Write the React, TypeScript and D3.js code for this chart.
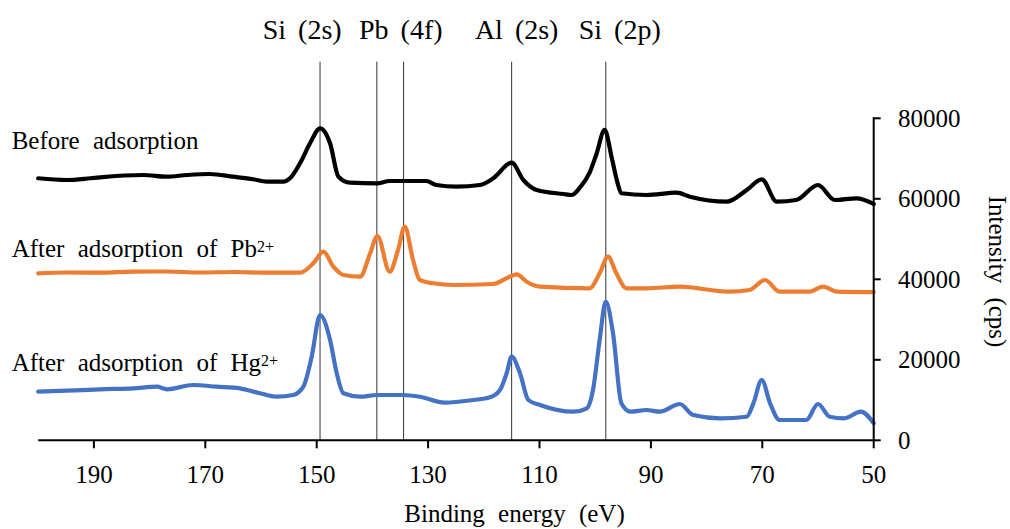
import React from "react";
import * as d3 from "d3";

// Binding energy (eV) / intensity (cps) pairs
const beforeEnergy = [200, 194.9, 190.7, 188.9, 181.1, 176.9, 173.3, 169.2, 165.0, 161.4, 159.0, 156.0, 154.8, 153.0, 151.2, 149.4, 147.6, 146.1, 144.0, 139.2, 136.9, 130.3, 128.5, 124.9, 120.7, 118.3, 115.0, 112.9, 110.5, 105.7, 104.2, 102.7, 101.0, 99.8, 98.3, 97.0, 96.0, 95.3, 90.8, 85.4, 83.0, 76.4, 72.8, 70.1, 67.4, 63.9, 60.0, 57.0, 53.1, 50];
const beforeIntensity = [65100, 64670, 65100, 65340, 65910, 65490, 65910, 66160, 65490, 64850, 64250, 64250, 65090, 68820, 73790, 77520, 73790, 65490, 64000, 63850, 64420, 64420, 63430, 63010, 63430, 65090, 68970, 64670, 62190, 61190, 60950, 62860, 66500, 71000, 77100, 70000, 64000, 61370, 60950, 61520, 60520, 59280, 62190, 64850, 59280, 59700, 63430, 59700, 60130, 58710];

const pbEnergy = [200, 194.9, 188.9, 183.0, 176.9, 171.0, 165.0, 159.0, 153.0, 150.6, 148.8, 147.0, 145.2, 142.2, 140.4, 139.1, 136.9, 135.4, 134.2, 132.7, 131.5, 129.1, 125.5, 118.3, 115.9, 114.1, 112.3, 109.9, 101.0, 99.2, 97.7, 96.2, 94.4, 90.8, 84.8, 75.9, 72.3, 69.5, 66.9, 61.5, 59.1, 56.6, 50];
const pbIntensity = [41490, 41690, 41640, 41890, 41940, 41690, 41810, 41640, 41640, 43980, 46860, 43130, 41070, 40650, 46460, 50760, 41890, 47280, 53070, 44800, 39830, 39010, 38580, 38830, 40250, 41240, 39400, 38160, 37760, 41490, 45620, 41490, 37760, 37760, 38160, 36920, 37340, 39830, 36920, 36920, 38160, 36920, 36800];

const hgEnergy = [200, 194.9, 188.9, 182.9, 178.7, 176.9, 172.2, 168.0, 163.8, 160.2, 157.2, 154.2, 152.4, 150.9, 149.4, 147.6, 146.4, 145.2, 142.2, 139.2, 134.5, 131.5, 127.0, 121.9, 118.9, 117.1, 115.9, 115.0, 113.5, 112.0, 109.9, 103.9, 101.5, 100.4, 99.2, 98.1, 96.8, 95.3, 93.7, 90.8, 88.4, 84.8, 82.4, 77.6, 72.8, 71.6, 70.1, 68.6, 66.9, 62.1, 60.0, 57.9, 55.3, 52.3, 50];
const hgIntensity = [12080, 12320, 12670, 12920, 13320, 12670, 13740, 13320, 12920, 11680, 10830, 11260, 13320, 20770, 31130, 24920, 16650, 11680, 10830, 11260, 11260, 10830, 9340, 10010, 10680, 12500, 16650, 20770, 16650, 10010, 8770, 7110, 7950, 12500, 24920, 34440, 26580, 9190, 7110, 7530, 7110, 9020, 6290, 5470, 5860, 9190, 14980, 9190, 5040, 5040, 9020, 5860, 5470, 7110, 4220];

const seriesNames = ["Before adsorption", "After adsorption of Pb", "After adsorption of Hg"];
const seriesSup = ["", "2+", "2+"];
const seriesColors = ["#000000", "#ED7D31", "#4472C4"];

const peakLines = [149.4, 139.2, 134.4, 115.0, 98.1];
const peakLabels = ["Si (2s)", "Pb (4f)", "Al (2s)", "Si (2p)"];
const peakLabelEnergy = [152.6, 134.9, 114.1, 95.6];

const xTicks = [190, 170, 150, 130, 110, 90, 70, 50];
const yTicks = [0, 20000, 40000, 60000, 80000];

const xTitle = "Binding energy (eV)";
const yTitle = "Intensity (cps)";

export default function App() {
  const left = 38.2, right = 873.7, top = 118.3, bottom = 440.3;
  const x = d3.scaleLinear().domain([200, 50]).range([left, right]);
  const y = d3.scaleLinear().domain([0, 80000]).range([bottom, top]);

  const series = [
    beforeEnergy.map((e, i) => [e, beforeIntensity[i]] as [number, number]),
    pbEnergy.map((e, i) => [e, pbIntensity[i]] as [number, number]),
    hgEnergy.map((e, i) => [e, hgIntensity[i]] as [number, number]),
  ];
  const line = d3
    .line<[number, number]>()
    .x((d) => x(d[0]))
    .y((d) => y(d[1]))
    .curve(d3.curveMonotoneX);

  const ff = "Liberation Serif";
  const labelY = [149, 256.7, 371];

  return (
    <svg
      width={1010}
      height={529}
      style={{ position: "absolute", left: 0, top: 0, background: "#fff" }}
    >
      {peakLines.map((e, i) => (
        <line key={"pl" + i} x1={x(e)} x2={x(e)} y1={61.7} y2={bottom} stroke="#333" strokeWidth={1} />
      ))}
      {series.map((s, i) => (
        <path
          key={"s" + i}
          d={line(s) || ""}
          fill="none"
          stroke={seriesColors[i]}
          strokeWidth={4.2}
          strokeLinejoin="round"
          strokeLinecap="round"
        />
      ))}
      <line x1={left} x2={right + 1} y1={bottom} y2={bottom} stroke="#000" strokeWidth={2} />
      {xTicks.map((t) => (
        <g key={"xt" + t}>
          <line x1={x(t)} x2={x(t)} y1={bottom} y2={bottom + 8} stroke="#000" strokeWidth={2} />
          <text x={x(t)} y={483} textAnchor="middle" fontSize={25} style={{ fontFamily: ff }}>
            {t}
          </text>
        </g>
      ))}
      <line x1={right} x2={right} y1={top - 1} y2={bottom} stroke="#000" strokeWidth={2} />
      {yTicks.map((t) => (
        <g key={"yt" + t}>
          <line x1={right} x2={right + 7} y1={y(t)} y2={y(t)} stroke="#000" strokeWidth={2} />
          <text x={898} y={y(t) + 8.5} fontSize={25} style={{ fontFamily: ff }}>
            {t}
          </text>
        </g>
      ))}
      <text x={514.5} y={521.7} textAnchor="middle" fontSize={25} wordSpacing={7} style={{ fontFamily: ff }}>
        {xTitle}
      </text>
      <text
        transform={`translate(989,271.5) rotate(90)`}
        textAnchor="middle"
        fontSize={25}
        wordSpacing={8}
        style={{ fontFamily: ff }}
      >
        {yTitle}
      </text>
      {peakLabels.map((l, i) => (
        <text
          key={"pk" + i}
          x={x(peakLabelEnergy[i])}
          y={39.3}
          textAnchor="middle"
          fontSize={28}
          wordSpacing={5}
          style={{ fontFamily: ff }}
        >
          {l}
        </text>
      ))}
      {seriesNames.map((n, i) => (
        <text key={"sl" + i} x={11.7} y={labelY[i]} fontSize={25} wordSpacing={7} style={{ fontFamily: ff }}>
          {n}
          {seriesSup[i] && (
            <tspan fontSize={16} dy={-5}>
              {seriesSup[i]}
            </tspan>
          )}
        </text>
      ))}
    </svg>
  );
}
